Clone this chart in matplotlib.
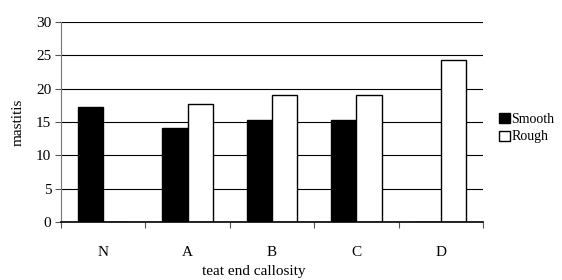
import matplotlib.pyplot as plt
import numpy as np

categories = ["N", "A", "B", "C", "D"]
smooth = [17.3, 14.15, 15.25, 15.35, 0]
rough = [0, 17.7, 19.05, 19.1, 24.3]
yticks = [0, 5, 10, 15, 20, 25, 30]

plt.rcParams['font.family'] = ['Liberation Serif', 'DejaVu Serif']
plt.rcParams['font.size'] = 11

fig = plt.figure(figsize=(5.62, 2.8), dpi=100)
ax = fig.add_axes([61 / 562, 58 / 280, 422 / 562, 200 / 280])

bar_width = 0.3
x = np.arange(len(categories)) + 0.5

# draw gridlines under bars
ax.set_axisbelow(True)
ax.yaxis.grid(True, color='black', linewidth=0.8)

ax.bar(x - bar_width / 2, smooth, bar_width, color='black', edgecolor='black',
       linewidth=1, label='Smooth')
ax.bar(x + bar_width / 2, rough, bar_width, color='white', edgecolor='black',
       linewidth=1, label='Rough')

ax.set_xlim(0, len(categories))
ax.set_ylim(0, 30)
ax.set_yticks(yticks)

# ticks at the category boundaries, labels in the middle
ax.set_xticks(np.arange(len(categories) + 1))
ax.set_xticklabels([])
ax.set_xticks(x, minor=True)
ax.set_xticklabels(categories, minor=True)
ax.tick_params(axis='x', which='minor', length=0, pad=17)
ax.tick_params(axis='x', which='major', direction='out', length=4, color='#555555')
ax.tick_params(axis='y', direction='out', length=4, color='#555555', pad=3)

for s in ['top', 'right']:
    ax.spines[s].set_visible(False)
ax.spines['left'].set_color('#777777')
ax.spines['bottom'].set_color('black')
ax.spines['bottom'].set_linewidth(1.2)

ax.set_ylabel('mastitis', labelpad=8)
fig.text(254 / 562, 1 - 271 / 280, 'teat end callosity', ha='center', va='center')

ax.legend(loc='center left', bbox_to_anchor=(1.025, 0.47), frameon=False,
          fontsize=10, handlelength=0.75, handleheight=0.75, handletextpad=0.15,
          labelspacing=0.35, borderaxespad=0)

fig.savefig('out.png', dpi=100)
